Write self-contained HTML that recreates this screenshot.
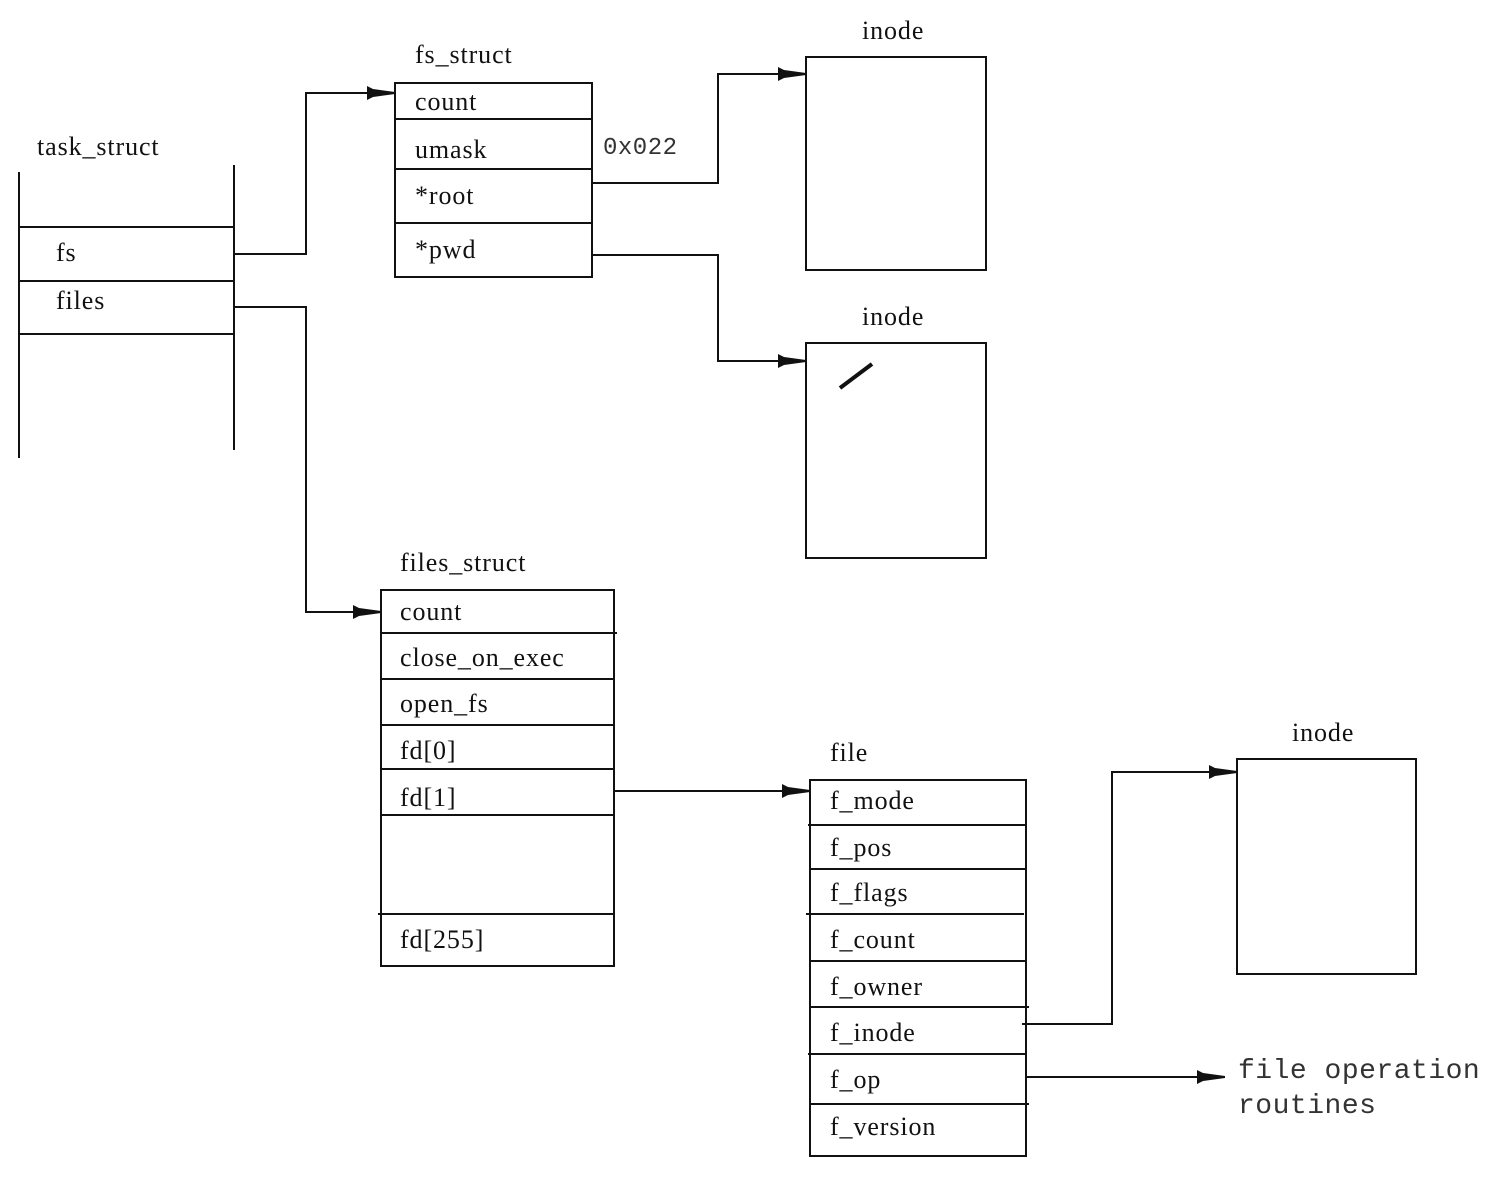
<!DOCTYPE html>
<html><head><style>
html,body{margin:0;padding:0;background:#fff;}
svg{display:block;}
.s{font-family:"Liberation Serif",serif;font-size:26px;fill:#111;letter-spacing:0.9px;}
.m{font-family:"Liberation Mono",monospace;font-size:28px;fill:#333;letter-spacing:0.5px;}
line,polyline,rect{stroke:#111;stroke-width:2;fill:none;}
</style></head><body>
<svg width="1494" height="1178" xmlns="http://www.w3.org/2000/svg">
<defs><marker id="a" markerWidth="30" markerHeight="16" refX="28" refY="8" orient="auto" markerUnits="userSpaceOnUse"><path d="M0,1 L6,4 L28,7 L28,9 L6,12 L0,15 Z" fill="#111"/></marker></defs>
<text class="s" x="37" y="155">task_struct</text>
<line x1="19" y1="172" x2="19" y2="458"/><line x1="234" y1="165" x2="234" y2="450"/>
<line x1="19" y1="227" x2="234" y2="227"/><line x1="19" y1="281" x2="234" y2="281"/><line x1="19" y1="334" x2="234" y2="334"/>
<text class="s" x="56" y="261">fs</text><text class="s" x="56" y="309">files</text>
<polyline points="234,254 306,254 306,93 395,93" marker-end="url(#a)"/>
<polyline points="234,307 306,307 306,612 381,612" marker-end="url(#a)"/>
<text class="s" x="415" y="63">fs_struct</text>
<rect x="395" y="83" width="197" height="194"/>
<line x1="395" y1="119" x2="592" y2="119"/><line x1="395" y1="169" x2="592" y2="169"/><line x1="395" y1="223" x2="592" y2="223"/>
<text class="s" x="415" y="110">count</text><text class="s" x="415" y="158">umask</text>
<text class="s" x="415" y="204">*root</text><text class="s" x="415" y="258">*pwd</text>
<text class="m" x="603" y="154" style="font-size:24px">0x022</text>
<polyline points="592,183 718,183 718,74 806,74" marker-end="url(#a)"/>
<polyline points="592,255 718,255 718,361 806,361" marker-end="url(#a)"/>
<text class="s" x="862" y="39">inode</text><rect x="806" y="57" width="180" height="213"/>
<text class="s" x="862" y="325">inode</text><rect x="806" y="343" width="180" height="215"/>
<line x1="840" y1="388" x2="872" y2="364" style="stroke-width:4"/>
<text class="s" x="400" y="571">files_struct</text>
<rect x="381" y="590" width="233" height="376"/>
<line x1="381" y1="633" x2="617" y2="633"/><line x1="381" y1="679" x2="614" y2="679"/><line x1="381" y1="725" x2="614" y2="725"/>
<line x1="381" y1="769" x2="614" y2="769"/><line x1="381" y1="815" x2="614" y2="815"/><line x1="378" y1="914" x2="614" y2="914"/>
<text class="s" x="400" y="620">count</text><text class="s" x="400" y="666">close_on_exec</text><text class="s" x="400" y="712">open_fs</text>
<text class="s" x="400" y="759">fd[0]</text><text class="s" x="400" y="806">fd[1]</text><text class="s" x="400" y="948">fd[255]</text>
<polyline points="614,791 810,791" marker-end="url(#a)"/>
<text class="s" x="830" y="761">file</text>
<rect x="810" y="780" width="216" height="376"/>
<line x1="808" y1="825" x2="1026" y2="825"/><line x1="810" y1="869" x2="1026" y2="869"/><line x1="806" y1="914" x2="1024" y2="914"/>
<line x1="810" y1="961" x2="1026" y2="961"/><line x1="810" y1="1007" x2="1029" y2="1007"/><line x1="808" y1="1054" x2="1026" y2="1054"/><line x1="810" y1="1104" x2="1029" y2="1104"/>
<text class="s" x="830" y="809">f_mode</text><text class="s" x="830" y="856">f_pos</text><text class="s" x="830" y="901">f_flags</text>
<text class="s" x="830" y="948">f_count</text><text class="s" x="830" y="995">f_owner</text><text class="s" x="830" y="1041">f_inode</text>
<text class="s" x="830" y="1088">f_op</text><text class="s" x="830" y="1135">f_version</text>
<polyline points="1022,1024 1112,1024 1112,772 1237,772" marker-end="url(#a)"/>
<text class="s" x="1292" y="741">inode</text><rect x="1237" y="759" width="179" height="215"/>
<polyline points="1026,1077 1225,1077" marker-end="url(#a)"/>
<text class="m" x="1238" y="1078">file operation</text><text class="m" x="1238" y="1113">routines</text>
</svg>
</body></html>
